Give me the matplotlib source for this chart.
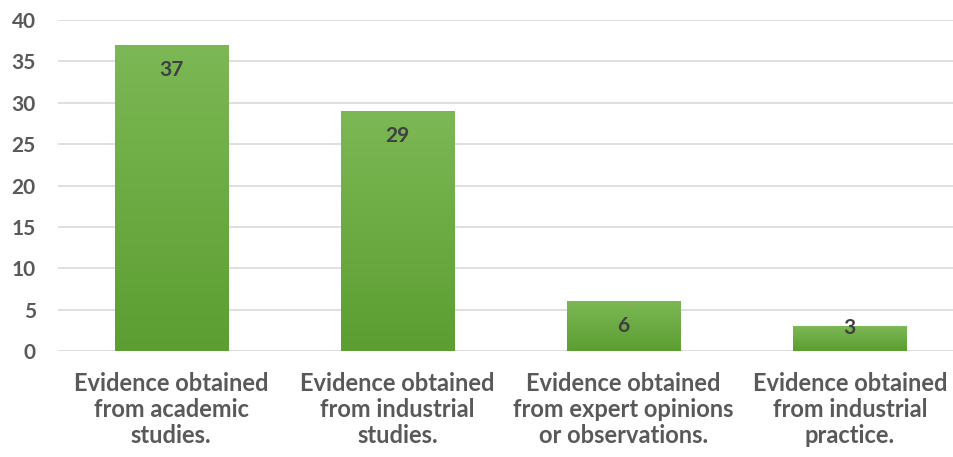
import matplotlib.pyplot as plt
import numpy as np
from matplotlib.colors import LinearSegmentedColormap

categories = [
    "Evidence obtained\nfrom academic\nstudies.",
    "Evidence obtained\nfrom industrial\nstudies.",
    "Evidence obtained\nfrom expert opinions\nor observations.",
    "Evidence obtained\nfrom industrial\npractice.",
]
values = [37, 29, 6, 3]
yticks = [0, 5, 10, 15, 20, 25, 30, 35, 40]

text_color = "#595959"
plt.rcParams["font.family"] = ["Lato", "DejaVu Sans"]

fig = plt.figure(figsize=(9.54, 4.57), dpi=100)
ax = fig.add_axes([58 / 954, 1 - 351 / 457, 905 / 954, 331 / 457])

x = np.arange(len(values))
bars = ax.bar(x, values, width=0.5, color="none", zorder=2)

# vertical gradient fill for each bar
cmap = LinearSegmentedColormap.from_list("g", ["#5c9e31", "#7cb855"])
grad = np.linspace(0, 1, 256).reshape(-1, 1)
for b in bars:
    x0, y0 = b.get_x(), b.get_y()
    w, h = b.get_width(), b.get_height()
    im = ax.imshow(grad, cmap=cmap, origin="lower", aspect="auto",
                   extent=[x0, x0 + w, y0, y0 + h], zorder=2)
    im.set_clip_path(b)

# labels sit inside the top of the bar, kept above the baseline for short bars
for xi, v in zip(x, values):
    ax.text(xi, max(v - 3.0, 2.8), str(v), ha="center", va="center",
            fontsize=15, fontweight="bold", color="#404040", zorder=3)

ax.set_xlim(-0.5, 3.5)
ax.set_ylim(0, 40)
ax.set_yticks(yticks)
ax.yaxis.grid(True, color="#d9d9d9", linewidth=1.2)
ax.set_axisbelow(True)
for s in ax.spines.values():
    s.set_visible(False)
ax.tick_params(axis="both", length=0, colors=text_color)
ax.tick_params(axis="y", pad=16, labelsize=15)
for lab in ax.get_yticklabels():
    lab.set_fontweight("bold")
ax.set_xticks(x)
ax.set_xticklabels(categories, fontsize=17, fontweight="bold",
                   color=text_color, linespacing=1.15)
ax.tick_params(axis="x", pad=15)

fig.savefig("out.png", dpi=100)
